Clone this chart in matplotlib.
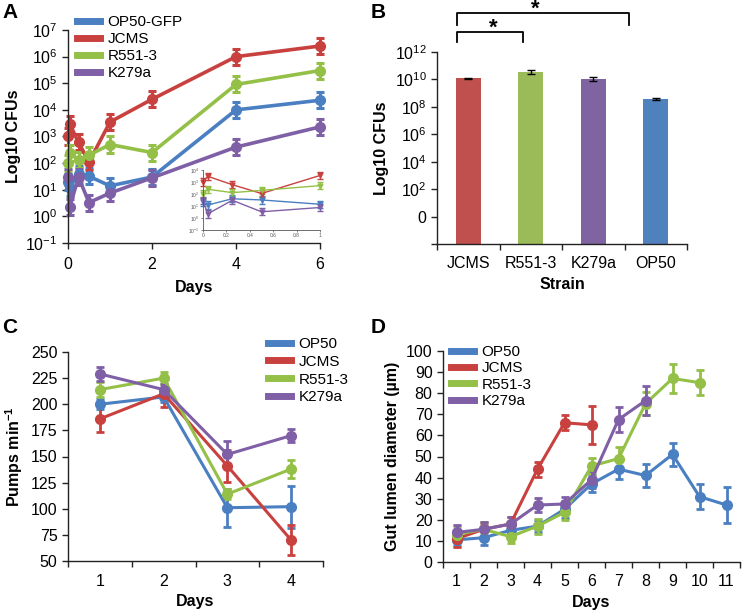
import numpy as np
import matplotlib
matplotlib.use("Agg")
import matplotlib.pyplot as plt
from matplotlib.ticker import FixedLocator, FixedFormatter, NullFormatter
import matplotlib.transforms as mtransforms

plt.rcParams['font.family'] = ['Liberation Sans', 'DejaVu Sans']
plt.rcParams['mathtext.fontset'] = 'custom'
plt.rcParams['mathtext.rm'] = 'Liberation Sans'
plt.rcParams['mathtext.it'] = 'Liberation Sans:italic'
plt.rcParams['mathtext.bf'] = 'Liberation Sans:bold'
plt.rcParams['mathtext.default'] = 'regular'

BLUE, RED, GREEN, PURPLE = '#4A7FC1', '#C8413F', '#94C047', '#7F5FA6'
TFS = 11.5   # tick font size
LFS = 11.5   # axis label font size
GFS = 11     # legend font size

# ---------------- Panel A data ----------------
a_days = [0.0, 0.04, 0.25, 0.5, 1, 2, 4, 6]
a_op50 = [20, 12, 40, 32, 14, 30, 1.0e4, 2.3e4]
a_jcms = [1000, 3000, 600, 110, 3500, 2.5e4, 1.0e6, 2.5e6]
a_r551 = [100, 250, 130, 200, 500, 250, 9.0e4, 3.0e5]
a_k279 = [30, 2.2, 30, 3.3, 7.5, 28, 400, 2300]
a_fold = [2.0, 2.0, 2.0, 2.0, 2.0, 2.0, 2.0, 2.0]   # error fold-change
a_labels = ['OP50-GFP', 'JCMS', 'R551-3', 'K279a']

# ---------------- Panel B data ----------------
b_strains = ['JCMS', 'R551-3', 'K279a', 'OP50']
b_values = [1.2e10, 3.6e10, 1.1e10, 3.6e8]
b_err_lo = [1.5e9, 1.0e10, 3.5e9, 5.0e7]
b_err_hi = [1.5e9, 1.5e10, 5.0e9, 6.0e7]
b_colors = ['#C0504D', '#9BBB59', '#8064A2', '#4F81BD']
b_yticks = [1e-2, 1e0, 1e2, 1e4, 1e6, 1e8, 1e10, 1e12]
b_yticklabels = ['', '0', '$10^{2}$', '$10^{4}$', '$10^{6}$', '$10^{8}$', '$10^{10}$', '$10^{12}$']

# ---------------- Panel C data ----------------
c_days = [1, 2, 3, 4]
c_op50 = [200, 207, 101, 102]
c_op50_err = [5, 5, 18, 20]
c_jcms = [186, 210, 141, 70]
c_jcms_err = [13, 13, 15, 14]
c_r551 = [214, 225, 114, 138]
c_r551_err = [7, 6, 5, 9]
c_k279 = [229, 214, 152, 170]
c_k279_err = [7, 5, 13, 6]
c_labels = ['OP50', 'JCMS', 'R551-3', 'K279a']

# ---------------- Panel D data ----------------
d_op50_days = [1, 2, 3, 4, 5, 6, 7, 8, 9, 10, 11]
d_op50 = [10.5, 11.5, 15, 17, 25, 37, 44, 41, 51, 31, 27]
d_op50_err = [3, 3.5, 3, 3, 4, 4, 4.5, 5.5, 5.5, 6, 8.5]
d_jcms_days = [1, 2, 3, 4, 5, 6]
d_jcms = [11, 15.5, 18, 44, 66, 65]
d_jcms_err = [4, 3, 3.5, 3.5, 3.5, 9]
d_r551_days = [1, 2, 3, 4, 5, 6, 7, 8, 9, 10]
d_r551 = [13, 15.5, 12, 17, 23.5, 45.5, 49, 75, 87, 85]
d_r551_err = [4, 3.5, 3, 3.5, 3.5, 4, 5.5, 5.5, 7, 6]
d_k279_days = [1, 2, 3, 4, 5, 6, 7, 8]
d_k279 = [14, 15.5, 18, 27, 27.5, 39, 67.5, 76.5]
d_k279_err = [3.5, 3.5, 3.5, 3.5, 3.5, 4, 6, 7]
d_labels = ['OP50', 'JCMS', 'R551-3', 'K279a']

W, H = 742, 612
fig = plt.figure(figsize=(W / 100, H / 100), dpi=100)


def rect(l, t, r, b):
    return [l / W, 1 - b / H, (r - l) / W, (b - t) / H]


def style(ax, fs=TFS):
    for s in ['top', 'right']:
        ax.spines[s].set_visible(False)
    for s in ['left', 'bottom']:
        ax.spines[s].set_color('#222222')
        ax.spines[s].set_linewidth(1.0)
    ax.tick_params(labelsize=fs, length=4, width=1, color='#222222', direction='out')


# ---------------- Panel A ----------------
axA = fig.add_axes(rect(68, 30, 320, 243))
style(axA)
series_A = [(a_op50, BLUE), (a_jcms, RED), (a_r551, GREEN), (a_k279, PURPLE)]
for (vals, col), lab in zip(series_A, a_labels):
    v = np.array(vals, float)
    f = np.array(a_fold, float)
    yerr = [v - v / f, v * f - v]
    axA.errorbar(a_days, v, yerr=yerr, color=col, lw=2.6, marker='o', ms=7,
                 elinewidth=2.2, capsize=3, capthick=2.2, label=lab, clip_on=False)
axA.set_yscale('log')
axA.set_ylim(1e-1, 1e7)
axA.set_xlim(0, 6)
axA.set_xticks([0, 2, 4, 6])
axA.yaxis.set_major_locator(FixedLocator([10.0 ** k for k in range(-1, 8)]))
axA.yaxis.set_minor_locator(FixedLocator([]))
axA.set_yticklabels(['$10^{%d}$' % k for k in range(-1, 8)])
axA.tick_params(axis='x', pad=6)
axA.set_xlabel('Days', fontsize=LFS, fontweight='bold', labelpad=6)
axA.set_ylabel('Log10 CFUs', fontsize=LFS, fontweight='bold', labelpad=3)
hA = [plt.Line2D([], [], color=c, lw=5) for _, c in series_A]
fig.legend(hA, a_labels, loc='upper left', bbox_to_anchor=(77 / W, 1 - 15 / H),
           frameon=False, fontsize=GFS, handlelength=1.5, handletextpad=0.5,
           labelspacing=0.2, borderpad=0, borderaxespad=0)

# inset
axI = fig.add_axes(rect(203, 170, 320, 230))
for s in ['top', 'right']:
    axI.spines[s].set_visible(False)
for s in ['left', 'bottom']:
    axI.spines[s].set_color('#555555')
    axI.spines[s].set_linewidth(0.6)
for (vals, col) in series_A:
    v = np.array(vals[:5], float)
    f = np.array(a_fold[:5], float)
    axI.errorbar(a_days[:5], v, yerr=[v - v / f, v * f - v], color=col, lw=1.0,
                 marker='v', ms=3.5, elinewidth=1.0, capsize=2, capthick=1.0, clip_on=False)
axI.set_yscale('log')
axI.set_ylim(1e-1, 1e4)
axI.set_xlim(0, 1)
axI.set_xticks([0, 0.2, 0.4, 0.6, 0.8, 1])
axI.set_xticklabels(['0', '0.2', '0.4', '0.6', '0.8', '1'])
axI.yaxis.set_major_locator(FixedLocator([10.0 ** k for k in range(-1, 5)]))
axI.yaxis.set_minor_locator(FixedLocator([]))
axI.set_yticklabels(['$10^{%d}$' % k for k in range(-1, 5)])
axI.tick_params(labelsize=3.5, length=1.5, width=0.5, pad=1, colors='#555555')
axI.patch.set_alpha(0)

# ---------------- Panel B ----------------
axB = fig.add_axes(rect(437, 52, 687, 244))
style(axB)
xb = np.arange(len(b_strains))
axB.bar(xb, b_values, width=0.4, color=b_colors, bottom=1e-2,
        yerr=[b_err_lo, b_err_hi], capsize=3, error_kw=dict(elinewidth=1, capthick=1, ecolor='black'))
axB.set_yscale('log')
axB.set_ylim(1e-2, 1e12)
axB.set_xlim(-0.5, 3.5)
axB.yaxis.set_major_locator(FixedLocator(b_yticks))
axB.yaxis.set_minor_locator(FixedLocator([]))
axB.yaxis.set_major_formatter(FixedFormatter(b_yticklabels))
axB.xaxis.set_major_locator(FixedLocator([-0.5, 0.5, 1.5, 2.5, 3.5]))
axB.xaxis.set_major_formatter(NullFormatter())
axB.xaxis.set_minor_locator(FixedLocator(list(xb)))
axB.xaxis.set_minor_formatter(FixedFormatter(b_strains))
axB.tick_params(axis='x', which='minor', length=0, labelsize=TFS, pad=9)
axB.set_xlabel('Strain', fontsize=LFS, fontweight='bold', labelpad=4)
axB.set_ylabel('Log10 CFUs', fontsize=LFS, fontweight='bold', labelpad=4)
trB = mtransforms.blended_transform_factory(axB.transData, axB.transAxes)
# significance brackets
for (x0, x1, yh, yl, xs, ys) in [(-0.18, 0.88, 1.104, 1.052, 0.40, 1.125),
                                  (-0.18, 2.57, 1.203, 1.141, 1.08, 1.222)]:
    axB.plot([x0, x0, x1, x1], [yl, yh, yh, yl], color='black', lw=1.3,
             transform=trB, clip_on=False)
    axB.text(xs, ys, '*', transform=trB, ha='center', va='center',
             fontsize=16, fontweight='bold')

# ---------------- Panel C ----------------
axC = fig.add_axes(rect(68, 352, 323, 561))
style(axC)
series_C = [(c_op50, c_op50_err, BLUE), (c_jcms, c_jcms_err, RED),
            (c_r551, c_r551_err, GREEN), (c_k279, c_k279_err, PURPLE)]
for (v, e, col), lab in zip(series_C, c_labels):
    axC.errorbar(c_days, v, yerr=e, color=col, lw=2.2, marker='o', ms=7,
                 elinewidth=2.0, capsize=3, capthick=2.0, label=lab)
axC.set_ylim(50, 250)
axC.set_xlim(0.5, 4.5)
axC.set_yticks(np.arange(50, 251, 25))
axC.xaxis.set_major_locator(FixedLocator([0.5, 1.5, 2.5, 3.5, 4.5]))
axC.xaxis.set_major_formatter(NullFormatter())
axC.xaxis.set_minor_locator(FixedLocator(c_days))
axC.xaxis.set_minor_formatter(FixedFormatter([str(d) for d in c_days]))
axC.tick_params(axis='x', which='minor', length=0, labelsize=TFS, pad=9)
axC.set_xlabel('Days', fontsize=LFS, fontweight='bold', labelpad=4)
axC.set_ylabel('Pumps min$^{\\mathbf{-1}}$', fontsize=LFS, fontweight='bold', labelpad=4)
hC = [plt.Line2D([], [], color=c, lw=5) for _, _, c in series_C]
fig.legend(hC, c_labels, loc='upper left', bbox_to_anchor=(268 / W, 1 - 337 / H),
           frameon=False, fontsize=GFS, handlelength=1.5, handletextpad=0.5,
           labelspacing=0.25, borderpad=0, borderaxespad=0)

# ---------------- Panel D ----------------
axD = fig.add_axes(rect(443, 351, 740, 562))
style(axD)
series_D = [(d_op50_days, d_op50, d_op50_err, BLUE), (d_jcms_days, d_jcms, d_jcms_err, RED),
            (d_r551_days, d_r551, d_r551_err, GREEN), (d_k279_days, d_k279, d_k279_err, PURPLE)]
for (x, v, e, col), lab in zip(series_D, d_labels):
    axD.errorbar(x, v, yerr=e, color=col, lw=2.2, marker='o', ms=7,
                 elinewidth=2.0, capsize=3, capthick=2.0, label=lab)
axD.set_ylim(0, 100)
axD.set_xlim(0.5, 11.5)
axD.set_yticks(np.arange(0, 101, 10))
axD.xaxis.set_major_locator(FixedLocator(list(np.arange(0.5, 12, 1.0))))
axD.xaxis.set_major_formatter(NullFormatter())
axD.xaxis.set_minor_locator(FixedLocator(d_op50_days))
axD.xaxis.set_minor_formatter(FixedFormatter([str(d) for d in d_op50_days]))
axD.tick_params(axis='x', which='minor', length=0, labelsize=TFS, pad=9)
axD.set_xlabel('Days', fontsize=LFS, fontweight='bold', labelpad=4)
axD.set_ylabel('Gut lumen diameter (µm)', fontsize=LFS, fontweight='bold', labelpad=4)
hD = [plt.Line2D([], [], color=c, lw=5) for _, _, _, c in series_D]
fig.legend(hD, d_labels, loc='upper left', bbox_to_anchor=(451 / W, 1 - 345 / H),
           frameon=False, fontsize=GFS, handlelength=1.5, handletextpad=0.5,
           labelspacing=0.15, borderpad=0, borderaxespad=0)

# panel letters
for lbl, x, y in [('A', 2, 3), ('B', 371, 3), ('C', 2, 318), ('D', 371, 318)]:
    fig.text(x / W, 1 - y / H, lbl, fontsize=15, fontweight='bold', ha='left', va='top')

fig.savefig('out.png', dpi=100)
